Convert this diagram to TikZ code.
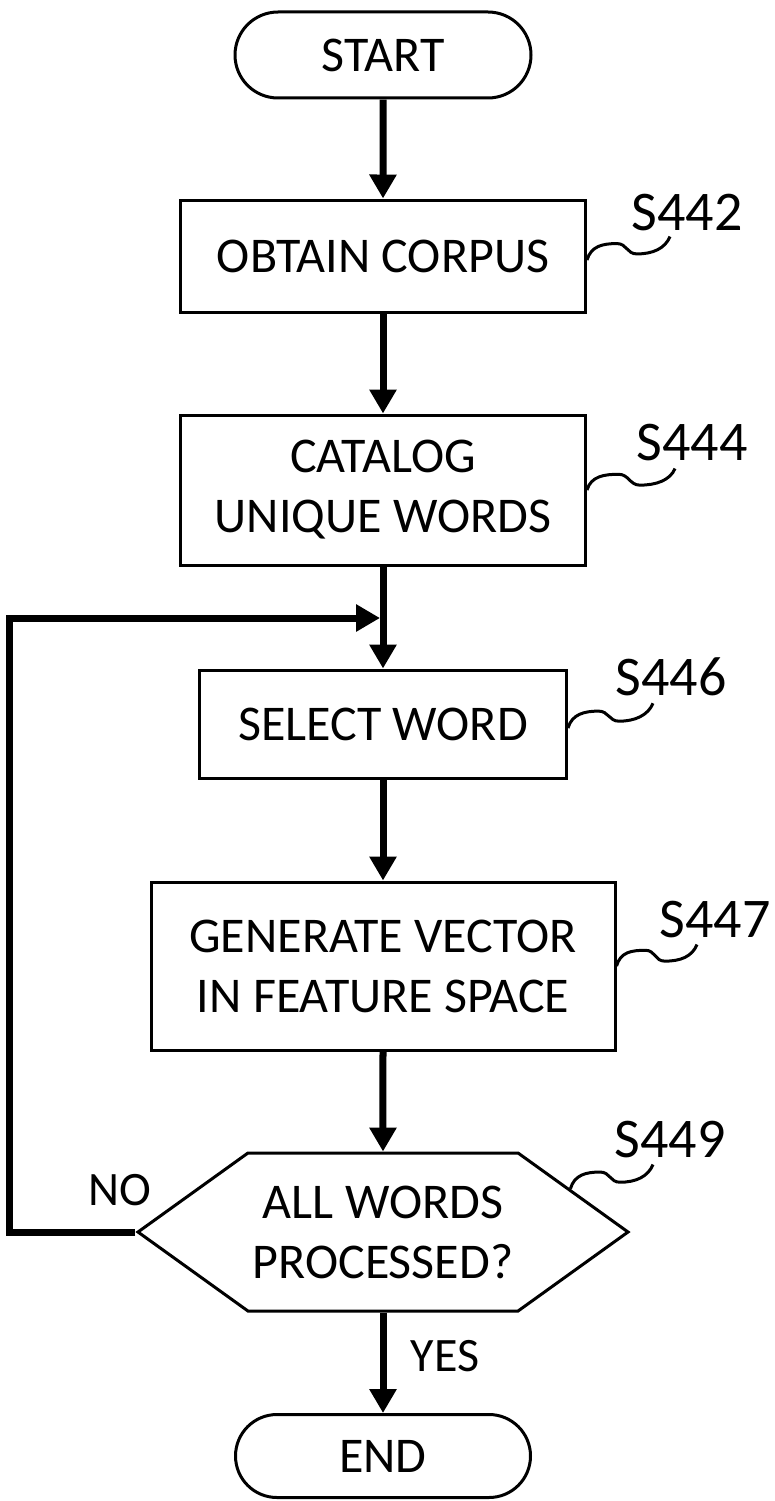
\documentclass[tikz,border=0pt]{standalone}
\usepackage{fontspec}
\setmainfont{Carlito}
\usetikzlibrary{arrows.meta}
\usetikzlibrary{calc}
\usetikzlibrary{shapes.misc}
\usetikzlibrary{shapes.symbols}

\begin{document}
\begin{tikzpicture}[x=1pt,y=1pt]
      \useasboundingbox (0,0) rectangle (775,-1501);

      \begin{scope}[every node/.style={draw,line width=3pt,align=center,inner sep=0pt,
          font=\fontsize{50}{60}\selectfont}]
        \node[rounded rectangle,minimum width=296pt,minimum height=86pt] (start) at (383,-55) {START};
        \node[minimum width=405pt,minimum height=112pt] (obtain) at (383,-256) {OBTAIN CORPUS};
        \node[minimum width=405pt,minimum height=150pt] (catalog) at (383,-490) {CATALOG\\UNIQUE WORDS};
        \node[minimum width=367pt,minimum height=108pt] (select) at (383,-724) {SELECT WORD};
        \node[minimum width=464pt,minimum height=168pt] (generate) at (383,-966) {GENERATE VECTOR\\IN FEATURE SPACE};
        \node[signal,signal to=west and east,signal pointer angle=71.4,
          minimum width=490pt,minimum height=158pt] (decide) at (383,-1232) {ALL WORDS\\PROCESSED?};
        \node[rounded rectangle,minimum width=295pt,minimum height=83pt] (end) at (383,-1456) {END};
      \end{scope}

      \coordinate (loopin) at (380,-618);

      \begin{scope}[every node/.style={inner sep=0pt,font=\fontsize{56}{60}\selectfont}]
        \node (s442) at (687,-213) {S442};
        \node (s444) at (692,-443) {S444};
        \node (s446) at (671,-677) {S446};
        \node (s447) at (715,-920) {S447};
        \node (s449) at (670,-1140) {S449};
      \end{scope}

      \begin{scope}[every node/.style={inner sep=0pt,font=\fontsize{48}{60}\selectfont}]
        \node (no) at (120,-1190) {NO};
        \node (yes) at (445,-1356) {YES};
      \end{scope}

      \begin{scope}[line width=3pt,
          squiggle/.style={to path={.. controls +(4,14) and +(-14,0) ..
            ($(\tikztostart)!0.36!(\tikztotarget)+(0,8)$) .. controls +(10,0) and +(-10,0) ..
            ($(\tikztostart)!0.6!(\tikztotarget)+(0,-8)$) .. controls +(16,0) and +(-5,-12) ..
            (\tikztotarget)}}]
        \draw ([yshift=-4pt]obtain.east) to[squiggle] ([xshift=-17pt,yshift=-5pt]s442.south);
        \draw (catalog.east) to[squiggle] ([xshift=-17pt,yshift=-7pt]s444.south);
        \draw ([yshift=-4pt]select.east) to[squiggle] ([xshift=-18pt,yshift=-7pt]s446.south);
        \draw (generate.east) to[squiggle] ([xshift=-18pt,yshift=-6pt]s447.south);
        \draw (decide.13) to[squiggle] ([xshift=-17pt,yshift=-6pt]s449.south);
      \end{scope}

      \begin{scope}[>={Triangle[length=24pt,width=26pt]},
          every edge/.style={draw=black,line width=7pt}]
        \path [->] (start) edge (obtain);
        \path [->] (obtain) edge (catalog);
        \path [->] (catalog) edge (select);
        \path [->] (generate) edge (decide);
        \path [->] (select) edge (generate);
        \path [->] (decide) edge (end);
        \draw [->,line width=7pt] (decide.west) -- ++(-126,0) |- (loopin);
      \end{scope}
    \end{tikzpicture}
\end{document}
